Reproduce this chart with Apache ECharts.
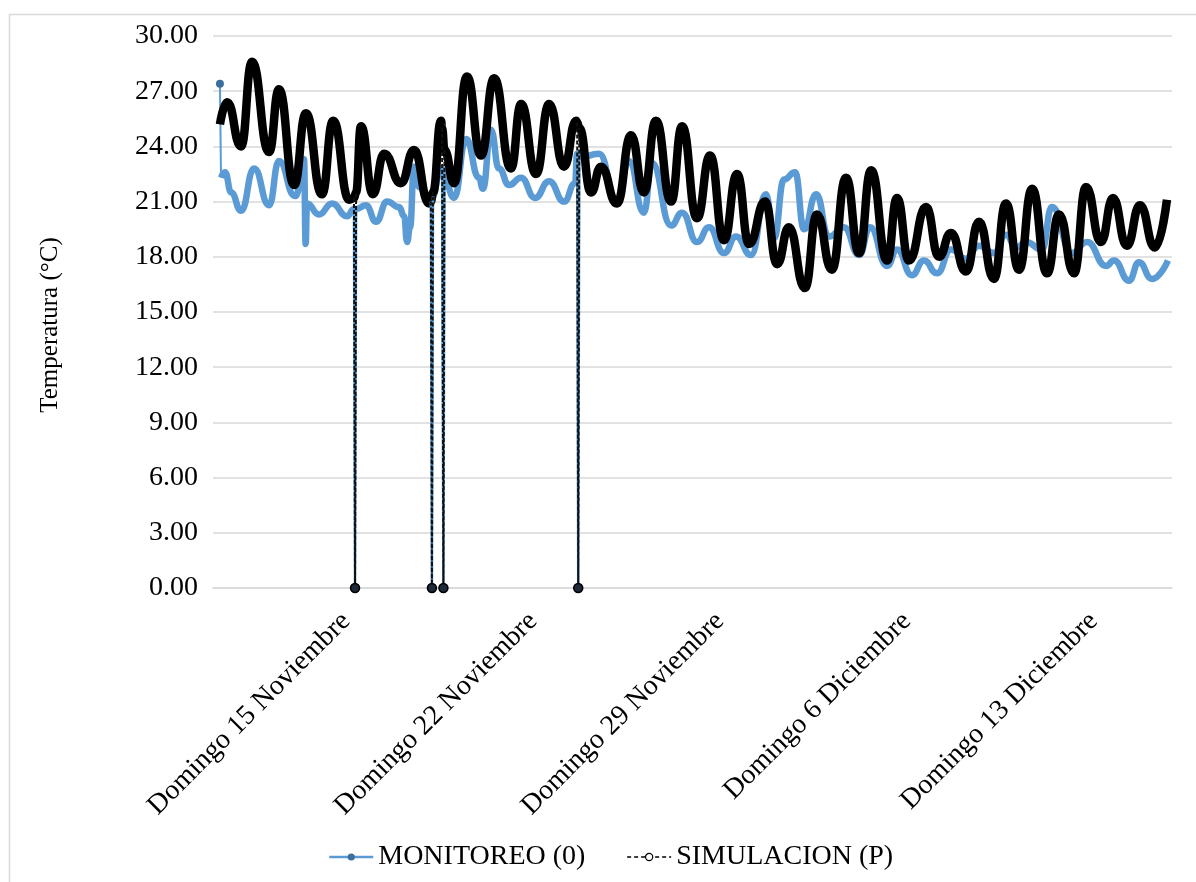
<!DOCTYPE html>
<html>
<head>
<meta charset="utf-8">
<script src="https://cdn.jsdelivr.net/npm/echarts@6/dist/echarts.min.js"></script>
<style>
  html, body { margin: 0; padding: 0; background: #fff; }
  #chart { width: 1196px; height: 882px; }
</style>
</head>
<body>
<div id="chart"></div>
<script>
// Time is a day number counted from 1 November 00:00 (1 December = 31).
const tickDays = [15, 22, 29, 36, 43];
const tickLabels = ['Domingo 15 Noviembre', 'Domingo 22 Noviembre', 'Domingo 29 Noviembre',
                    'Domingo 6 Diciembre', 'Domingo 13 Diciembre'];

// Measured indoor temperature (daily highs / lows, °C); 0 = missing reading.
const monTime = [10.09, 10.13, 10.28, 10.51, 10.88, 11.37, 11.93, 12.30, 12.90, 13.16,
                 13.24, 13.30, 13.35, 13.80, 14.29, 14.85, 15.11, 15.15, 15.19, 15.56,
                 15.94, 16.35, 16.80, 16.99, 17.10, 17.21, 17.36, 17.55, 17.92, 17.99,
                 18.03, 18.07, 18.30, 18.41, 18.46, 18.50, 18.86, 19.31, 19.79, 19.94,
                 20.24, 20.54, 20.92, 21.37, 21.89, 22.42, 22.98, 23.39, 23.47, 23.51,
                 23.55, 24.29, 24.96, 25.41, 25.97, 26.27, 26.99, 27.40, 27.96, 28.41,
                 28.97, 29.42, 29.98, 30.54, 30.84, 31.22, 31.63, 31.97, 32.42, 32.90,
                 33.46, 34.03, 34.44, 35.08, 35.45, 36.01, 36.46, 36.95, 37.47, 38.03,
                 38.52, 39.08, 39.53, 39.91, 40.28, 40.88, 41.25, 42.00, 42.57, 43.28,
                 43.58, 44.14, 44.51, 45.00, 45.60];
const monTemp = [27.4, 22.3, 22.6, 21.5, 20.5, 22.8, 20.8, 23.2, 21.3, 22.0,
                 23.3, 18.7, 20.9, 20.3, 20.9, 20.2, 20.6, 0, 20.6, 20.8,
                 19.9, 21.0, 20.7, 20.2, 18.8, 19.6, 22.9, 21.8, 21.0, 21.0,
                 0, 21.3, 22.5, 22.8, 0, 22.2, 21.2, 24.4, 22.3, 21.7,
                 24.9, 22.8, 21.9, 22.3, 21.2, 22.1, 21.0, 22.0, 23.6, 0,
                 23.4, 23.6, 20.9, 23.2, 20.4, 23.1, 19.7, 20.4, 18.8, 19.6,
                 18.2, 19.1, 18.1, 21.4, 19.0, 22.2, 22.6, 19.5, 21.4, 19.1,
                 19.6, 18.1, 19.6, 17.5, 18.4, 17.0, 17.8, 17.1, 18.4, 17.9,
                 18.6, 18.2, 19.2, 18.5, 18.8, 18.4, 20.7, 18.2, 18.8, 17.5,
                 17.8, 16.7, 17.7, 16.8, 17.8];

// Simulated indoor temperature (daily highs / lows, °C); 0 = missing value.
const simTime = [10.09, 10.36, 10.88, 11.29, 11.93, 12.30, 12.87, 13.31, 13.91, 14.33,
                 14.93, 15.11, 15.15, 15.19, 15.37, 15.82, 16.24, 16.87, 17.36, 17.92,
                 17.99, 18.03, 18.07, 18.37, 18.41, 18.46, 18.50, 18.86, 19.34, 19.87,
                 20.36, 20.99, 21.37, 21.93, 22.42, 22.98, 23.43, 23.47, 23.51, 23.55,
                 23.99, 24.36, 24.96, 25.49, 25.97, 26.42, 26.99, 27.40, 27.96, 28.45,
                 28.97, 29.46, 29.91, 30.51, 30.96, 31.40, 32.00, 32.45, 33.01, 33.54,
                 34.03, 34.48, 35.08, 35.45, 35.90, 36.54, 37.02, 37.47, 38.03, 38.52,
                 39.08, 39.53, 40.02, 40.51, 41.07, 41.52, 42.08, 42.53, 43.09, 43.54,
                 44.06, 44.55, 45.11, 45.56];
const simTemp = [25.2, 26.4, 24.0, 28.6, 23.7, 27.1, 21.9, 25.8, 21.4, 25.4,
                 21.1, 21.2, 0, 21.5, 25.1, 21.4, 23.6, 22.0, 23.8, 20.9,
                 21.0, 0, 21.5, 25.4, 25.0, 0, 23.8, 22.0, 27.8, 23.5,
                 27.7, 22.8, 26.3, 22.5, 26.3, 22.9, 25.4, 25.3, 0, 25.0,
                 21.5, 22.9, 20.9, 24.6, 21.5, 25.4, 21.0, 25.1, 20.1, 23.5,
                 18.9, 22.5, 18.7, 21.0, 17.6, 19.6, 16.3, 20.3, 17.3, 22.3,
                 18.2, 22.7, 17.8, 21.2, 17.8, 20.7, 18.0, 19.3, 17.2, 19.9,
                 16.8, 20.9, 17.3, 21.7, 17.1, 20.3, 17.1, 21.8, 18.8, 21.2,
                 18.6, 20.8, 18.5, 21.1];

const MON_NAME = 'MONITOREO (0)';
const SIM_NAME = 'SIMULACION (P)';
const BLUE = '#5B9BD5';
const BLUE_DOT = '#3c6e9e';
const FONT = 'Liberation Serif';

// Continuous curve: missing readings are bridged.
function curve(t, v) {
  return t.map((x, i) => [x, v[i] === 0 ? '-' : v[i]]);
}
// Short segments that fall to the missing (zero) readings.
function dropSegments(t, v) {
  const segs = [];
  v.forEach((y, i) => {
    if (y === 0 && i > 0 && i < v.length - 1) {
      segs.push([[t[i - 1], v[i - 1]], { value: [t[i], 0], symbolSize: 9 }, [t[i + 1], v[i + 1]]]);
    }
  });
  return segs;
}

const series = [
  {
    // the first reading is an isolated start-up value, drawn separately below
    name: MON_NAME, type: 'line', data: curve(monTime.slice(1), monTemp.slice(1)),
    smooth: 0.5, smoothMonotone: 'x', connectNulls: true, symbol: 'none',
    lineStyle: { color: BLUE, width: 6.5 }, itemStyle: { color: BLUE }, z: 2
  },
  {
    name: MON_NAME + ' ', type: 'line', symbol: 'circle', symbolSize: 0,
    data: [{ value: [monTime[0], monTemp[0]], symbolSize: 8 }, [monTime[1], monTemp[1]]],
    lineStyle: { color: BLUE, width: 2 }, itemStyle: { color: BLUE_DOT }, z: 2
  },
  {
    name: SIM_NAME, type: 'line', data: curve(simTime, simTemp),
    smooth: 0.5, smoothMonotone: 'x', connectNulls: true, symbol: 'none',
    lineStyle: { color: '#000', width: 8.5 }, itemStyle: { color: '#000' }, z: 3
  }
];
dropSegments(monTime, monTemp).forEach(seg => series.push({
  name: MON_NAME + ' ', type: 'line', data: seg, symbol: 'circle', symbolSize: 0,
  lineStyle: { color: BLUE, width: 2.5 }, itemStyle: { color: BLUE_DOT }, z: 4
}));
dropSegments(simTime, simTemp).forEach(seg => series.push({
  name: SIM_NAME + ' ', type: 'line', data: seg, symbol: 'circle', symbolSize: 0,
  lineStyle: { color: '#111', width: 2, type: [4, 2] },
  itemStyle: { color: '#1d2a38', borderColor: '#000', borderWidth: 1.5 }, z: 5
}));

const chart = echarts.init(document.getElementById('chart'), null, { renderer: 'canvas' });
chart.setOption({
  animation: false,
  backgroundColor: '#fff',
  textStyle: { fontFamily: FONT, color: '#000' },
  graphic: [{
    type: 'rect', left: 7, top: 12, silent: true,
    shape: { x: 0, y: 0, width: 1300, height: 1000 },
    style: { fill: 'none', stroke: '#d9d9d9', lineWidth: 1.5 }
  }],
  grid: { left: 213, right: 24, top: 36, bottom: 294 },
  legend: {
    left: 323, top: 838, itemWidth: 44, itemHeight: 9, itemGap: 41,
    textStyle: { fontFamily: FONT, fontSize: 28, color: '#000' },
    data: [
      { name: MON_NAME, itemStyle: { color: BLUE_DOT }, lineStyle: { color: BLUE, width: 2.5 } },
      { name: SIM_NAME, itemStyle: { color: '#fff', borderColor: '#000', borderWidth: 1.2 },
        lineStyle: { color: '#000', width: 1.5, type: [4, 3] } }
    ]
  },
  xAxis: {
    type: 'value', min: 9.83, max: 45.75,
    axisLine: { show: true, lineStyle: { color: '#d9d9d9', width: 1.5 } },
    axisTick: { show: false },
    splitLine: { show: false },
    axisLabel: {
      customValues: tickDays, rotate: 45, margin: 24, padding: [0, 7, 0, 0],
      fontFamily: FONT, fontSize: 28, color: '#000',
      formatter: v => tickLabels[tickDays.indexOf(v)] || ''
    }
  },
  yAxis: {
    type: 'value', min: 0, max: 30, interval: 3,
    name: 'Temperatura (°C)', nameLocation: 'middle', nameGap: 150,
    nameTextStyle: { fontFamily: FONT, fontSize: 25, color: '#000', padding: [0, 26, 0, 0] },
    axisLine: { show: false }, axisTick: { show: false },
    splitLine: { lineStyle: { color: '#d9d9d9', width: 1.5 } },
    axisLabel: { margin: 15, fontFamily: FONT, fontSize: 28, color: '#000',
                 formatter: v => v.toFixed(2) }
  },
  series: series
});
</script>
</body>
</html>
